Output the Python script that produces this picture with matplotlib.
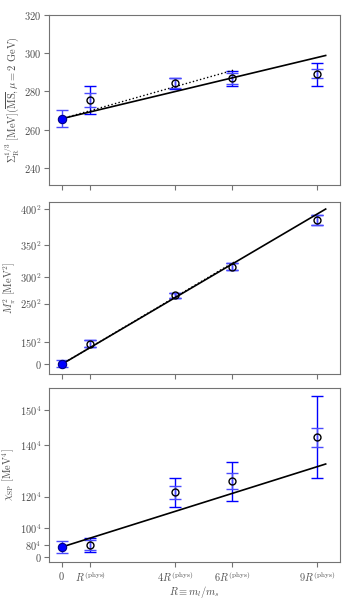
import numpy as np
import matplotlib
matplotlib.use('Agg')
import matplotlib.pyplot as plt

plt.rcParams['mathtext.fontset'] = 'cm'
plt.rcParams['font.family'] = 'serif'
plt.rcParams['font.serif'] = ['DejaVu Serif']

# x in units of R^(phys)
R = [0, 1, 4, 6, 9]
xlabels = [r'$0$', r'$R^{\rm (phys)}$', r'$4R^{\rm (phys)}$', r'$6R^{\rm (phys)}$', r'$9R^{\rm (phys)}$']

# panel 1: Sigma^(1/3)
sig = [265.7, 275.5, 284.2, 286.8, 289.2]
sig_stat_lo = [4.1, 3.6, 2.6, 2.8, 2.4]
sig_stat_hi = [4.4, 3.7, 2.6, 2.8, 2.5]
sig_tot_lo = [4.1, 7.3, 3.0, 4.2, 6.2]
sig_tot_hi = [4.4, 7.1, 2.6, 4.0, 5.9]
sig_fit = [265.7, 3.56]
sig_fit2 = [265.7, 4.2]

# panel 2: M_pi^2
mpi = [600, 21200, 71100, 100600, 148700]
mpi_err = [3300, 3400, 2600, 3300, 5200]
mpi_fit = [0, 17200]
mpi_fit2 = [0, 17350]

# panel 3: chi_SP
chi = [0.334e8, 0.403e8, 2.23e8, 2.61e8, 4.13e8]
chi_stat_lo = [0.217e8, 0.172e8, 0.25e8, 0.28e8, 0.34e8]
chi_stat_hi = [0.206e8, 0.183e8, 0.22e8, 0.27e8, 0.32e8]
chi_tot_lo = [0.217e8, 0.253e8, 0.51e8, 0.68e8, 1.43e8]
chi_tot_hi = [0.206e8, 0.252e8, 0.47e8, 0.67e8, 1.41e8]
chi_fit = [0.334e8, 0.308e8]

fig = plt.figure(figsize=(3.5, 6), dpi=100)
ax1 = fig.add_axes([0.14, 0.6917, 0.831, 0.2833])
ax2 = fig.add_axes([0.14, 0.3767, 0.831, 0.2866])
ax3 = fig.add_axes([0.14, 0.0633, 0.831, 0.29])

xf = np.array([0, 9.3])
xf2 = np.array([0, 6.1])


def draw(ax, y, lo_in, hi_in, lo_out, hi_out):
    x = np.array(R)
    y = np.array(y)
    ax.errorbar(x[1:], y[1:], yerr=[lo_out[1:], hi_out[1:]], fmt='none', ecolor='blue',
                elinewidth=1, capsize=4, capthick=1, zorder=2)
    ax.errorbar(x, y, yerr=[lo_in, hi_in], fmt='none', ecolor='#4a4aff',
                elinewidth=1, capsize=4, capthick=1, zorder=2)
    ax.plot(x[1:], y[1:], 'o', mfc='none', mec='black', ms=5, mew=1, zorder=4)
    ax.plot(x[:1], y[:1], 'o', mfc='blue', mec='#000080', ms=6, mew=0.8, zorder=5)


def style(ax):
    ax.set_xlim(-0.45, 9.8)
    ax.set_xticks(R)
    for s in ax.spines.values():
        s.set_color('0.45')
    ax.tick_params(colors='0.45', labelcolor='0.3', labelsize=7.5, length=3.5, pad=2)


draw(ax1, sig, sig_stat_lo, sig_stat_hi, sig_tot_lo, sig_tot_hi)
ax1.plot(xf, sig_fit[0] + sig_fit[1] * xf, color='black', lw=1.2, zorder=3)
ax1.plot(xf2, sig_fit2[0] + sig_fit2[1] * xf2, color='black', lw=1, ls=':', zorder=3)
ax1.set_ylim(231, 320)
ax1.set_yticks([240, 260, 280, 300, 320])
ax1.set_yticklabels([r'$240$', r'$260$', r'$280$', r'$300$', r'$320$'])
ax1.set_xticklabels([])
ax1.set_ylabel(r'$\Sigma_{\rm R}^{1/3}$ $[{\rm MeV}](\overline{\rm MS}, \mu = 2$ ${\rm GeV})$',
               color='0.3', fontsize=7.5, labelpad=2)
style(ax1)

draw(ax2, mpi, mpi_err, mpi_err, mpi_err, mpi_err)
ax2.plot(xf, mpi_fit[0] + mpi_fit[1] * xf, color='black', lw=1.2, zorder=3)
ax2.plot(xf2, mpi_fit2[0] + mpi_fit2[1] * xf2, color='black', lw=1, ls=':', zorder=3)
ax2.set_ylim(-10000, 167200)
mt = [0, 150, 250, 300, 350, 400]
ax2.set_yticks([m ** 2 for m in mt])
ax2.set_yticklabels([r'$0$'] + [r'$%d^2$' % m for m in mt[1:]])
ax2.set_xticklabels([])
ax2.set_ylabel(r'$M_\pi^2$ $[{\rm MeV}^2]$', color='0.3', fontsize=7.5, labelpad=2)
style(ax2)

draw(ax3, chi, chi_stat_lo, chi_stat_hi, chi_tot_lo, chi_tot_hi)
ax3.plot(xf, chi_fit[0] + chi_fit[1] * xf, color='black', lw=1.2, zorder=3)
ax3.set_ylim(-0.183e8, 5.82e8)
ct = [0, 80, 100, 120, 140, 150]
ax3.set_yticks([c ** 4 for c in ct])
ax3.set_yticklabels([r'$0$'] + [r'$%d^4$' % c for c in ct[1:]])
ax3.set_xticklabels(xlabels)
ax3.set_ylabel(r'$\chi_{\rm SP}$ $[{\rm MeV}^4]$', color='0.3', fontsize=7.5, labelpad=2)
ax3.set_xlabel(r'$R \equiv m_l/m_s$', color='0.3', fontsize=7.5, labelpad=0)
style(ax3)

fig.savefig('out.png', dpi=100)
